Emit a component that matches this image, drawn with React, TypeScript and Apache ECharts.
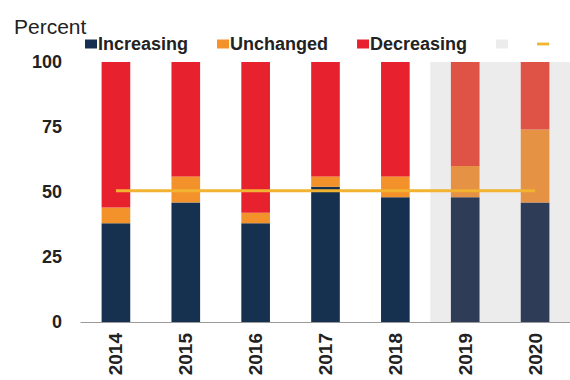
import React, { useEffect, useRef } from 'react';
import * as echarts from 'echarts';

// Share of responses by year (percent)
const years = ['2014', '2015', '2016', '2017', '2018', '2019', '2020'];
const increasing = [38, 46, 38, 52, 48, 48, 46];
const unchanged = [6, 10, 4, 4, 8, 12, 28];
const decreasing = [56, 44, 58, 44, 44, 40, 26];
const average = [50.5, 50.5, 50.5, 50.5, 50.5, 50.5, 50.5];
// Years drawn on the shaded (projected) background
const projectedYears = ['2019', '2020'];
const yTicks = { min: 0, max: 100, interval: 25 };

const FONT = '"Liberation Sans", Arial, sans-serif';
const TEXT = '#222222';

const palette = {
  increasing: '#16304f',
  unchanged: '#f3922a',
  decreasing: '#e8212f',
  increasingDim: '#2e3c58',
  unchangedDim: '#e69244',
  decreasingDim: '#df5347',
  shade: '#ececec',
  average: '#f2b232',
};

function withDim(values: number[], dim: string) {
  return values.map((v, i) =>
    projectedYears.includes(years[i]) ? { value: v, itemStyle: { color: dim } } : v
  );
}

export default function App() {
  const ref = useRef<HTMLDivElement>(null);

  useEffect(() => {
    if (!ref.current) return;
    const chart = echarts.init(ref.current, undefined, { renderer: 'svg' });
    chart.setOption({
      animation: false,
      textStyle: { fontFamily: FONT },
      title: {
        text: 'Percent',
        left: 9,
        top: 11,
        textStyle: { fontFamily: FONT, fontSize: 21, fontWeight: 'normal', color: TEXT },
      },
      legend: {
        left: 80,
        top: 30,
        itemWidth: 12,
        itemHeight: 9,
        itemGap: 29,
        formatter: (name: string) => (name === 'Forecast' || name === 'Average' ? '' : name),
        textStyle: {
          fontFamily: FONT,
          fontSize: 18,
          fontWeight: 'bold',
          color: TEXT,
          padding: [0, 0, 0, -4],
        },
        data: [
          { name: 'Increasing', icon: 'rect' },
          { name: 'Unchanged', icon: 'rect' },
          { name: 'Decreasing', icon: 'rect' },
          { name: 'Forecast', icon: 'rect' },
          { name: 'Average', icon: 'path://M0,0H12V2.8H0Z' },
        ],
      },
      grid: { left: 81, top: 62, width: 492, bottom: 58 },
      xAxis: {
        type: 'category',
        data: years,
        axisLine: { lineStyle: { color: '#9a9a9a', width: 1 } },
        axisTick: { show: false },
        axisLabel: {
          rotate: 90,
          margin: 11,
          fontFamily: FONT,
          fontSize: 19,
          fontWeight: 'bold',
          color: TEXT,
        },
      },
      yAxis: {
        type: 'value',
        min: yTicks.min,
        max: yTicks.max,
        interval: yTicks.interval,
        axisLine: { show: false },
        axisTick: { show: false },
        splitLine: { show: false },
        axisLabel: { margin: 19, fontFamily: FONT, fontSize: 18, fontWeight: 'bold', color: TEXT },
      },
      series: [
        {
          name: 'Forecast',
          type: 'bar',
          stack: 'total',
          z: 1,
          data: [],
          itemStyle: { color: palette.shade },
          markArea: {
            silent: true,
            itemStyle: { color: palette.shade },
            data: [[{ xAxis: projectedYears[0] }, { xAxis: projectedYears[projectedYears.length - 1] }]],
          },
        },
        {
          name: 'Increasing',
          type: 'bar',
          stack: 'total',
          barWidth: '41%',
          z: 2,
          itemStyle: { color: palette.increasing },
          data: withDim(increasing, palette.increasingDim),
        },
        {
          name: 'Unchanged',
          type: 'bar',
          stack: 'total',
          z: 2,
          itemStyle: { color: palette.unchanged },
          data: withDim(unchanged, palette.unchangedDim),
        },
        {
          name: 'Decreasing',
          type: 'bar',
          stack: 'total',
          z: 2,
          itemStyle: { color: palette.decreasing },
          data: withDim(decreasing, palette.decreasingDim),
        },
        {
          name: 'Average',
          type: 'line',
          z: 5,
          symbol: 'none',
          lineStyle: { color: palette.average, width: 3 },
          itemStyle: { color: palette.average },
          data: average,
        },
      ],
    });
    return () => chart.dispose();
  }, []);

  return (
    <div
      ref={ref}
      style={{ position: 'absolute', left: 0, top: 0, width: 570, height: 380, background: '#ffffff' }}
    />
  );
}
